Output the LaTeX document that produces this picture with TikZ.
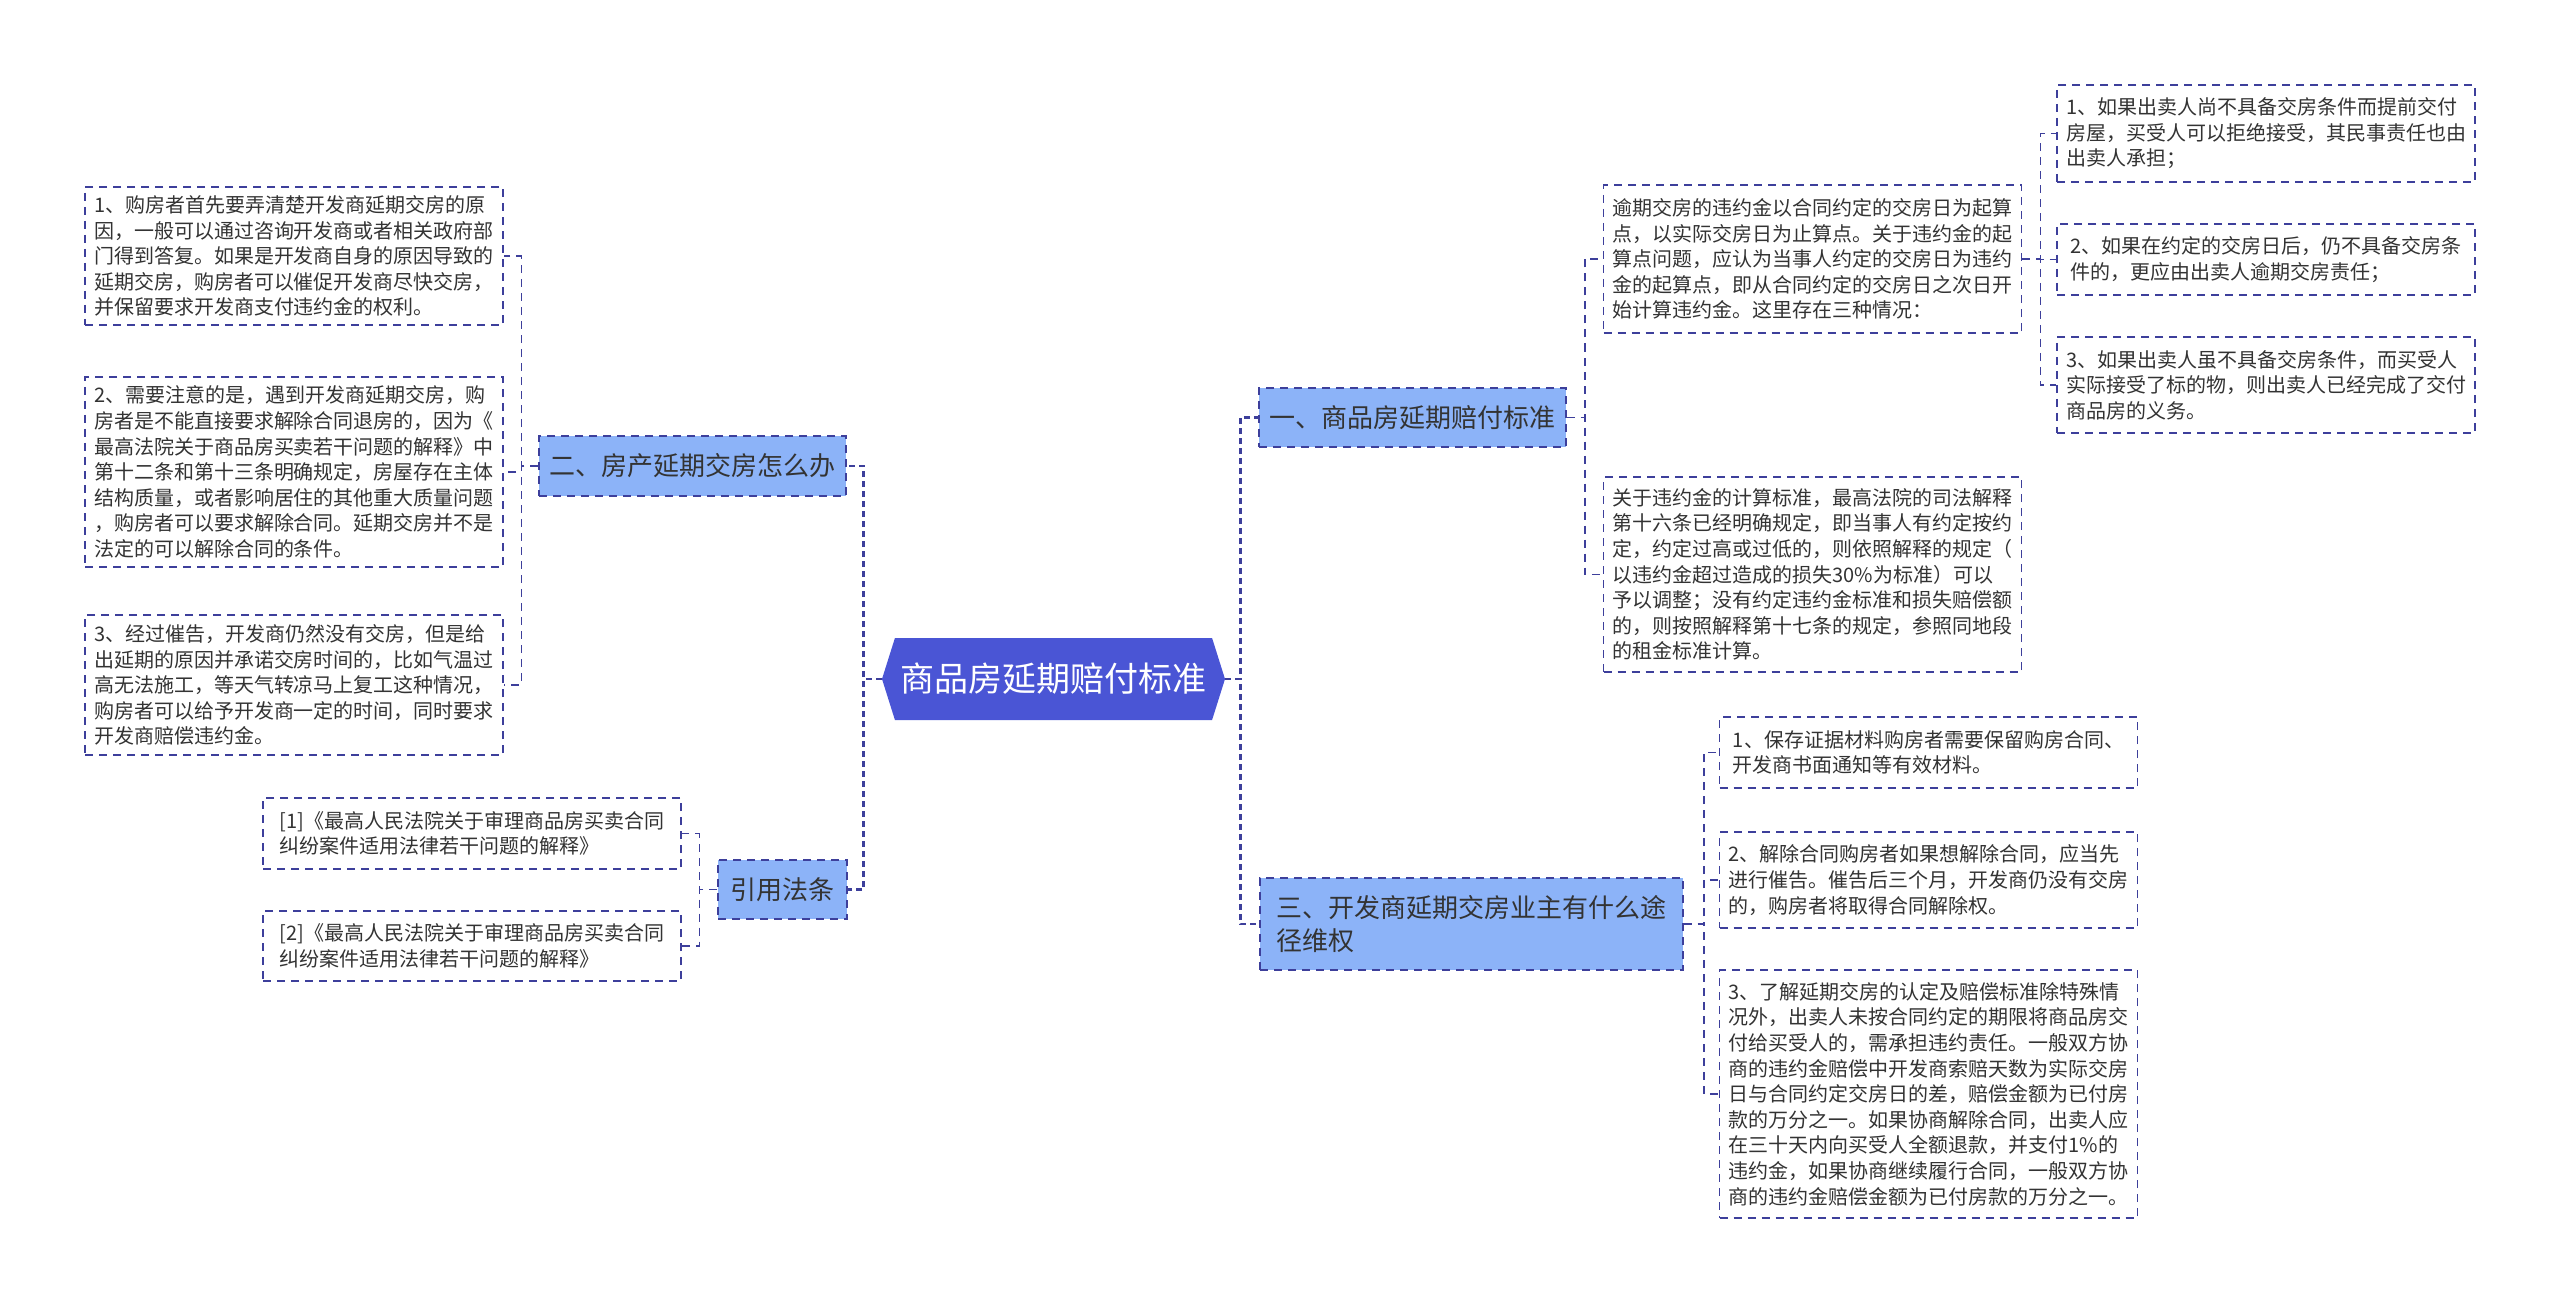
\documentclass[tikz,border=0pt]{standalone}
\usepackage{fontspec}
\setmainfont{Noto Sans CJK SC}
\usetikzlibrary{shapes.symbols}
\definecolor{rootblue}{HTML}{4A55D5}
\definecolor{branchblue}{HTML}{8CB3F8}
\definecolor{linkblue}{HTML}{3D3F9B}
\definecolor{textgray}{HTML}{333333}

\begin{document}
\begin{tikzpicture}[x=0.5pt, y=-0.5pt,
  root node/.style={signal, signal to=west and east, signal pointer angle=145, fill=rootblue, text=white, font=\fontsize{17pt}{20pt}\selectfont, minimum width=171.5pt, minimum height=41pt, inner sep=0pt},
  branch node/.style={draw=linkblue, dash pattern=on 4pt off 3pt, line width=0.8pt, fill=branchblue, text=textgray, align=left, font=\fontsize{13pt}{16.5pt}\selectfont, inner sep=0pt},
  leaf node/.style={draw=linkblue, dash pattern=on 4pt off 3pt, line width=0.7pt, fill=white, text=textgray, align=left, font=\fontsize{10pt}{12.8pt}\selectfont, inner sep=0pt, minimum width=209pt},
  link/.style={draw=linkblue, dash pattern=on 4pt off 3pt, line width=0.7pt},
  main link/.style={link, line width=1.3pt, dash pattern=on 3pt off 2pt}]
\useasboundingbox (0,0) rectangle (2560,1305);

% centre
\node [root node] (root) at (1053.5,679) {商品房延期赔付标准};

% main branches
\node [branch node, minimum width=153.5pt, minimum height=29.5pt] (b1) at (1412.5,417.5) {一、商品房延期赔付标准};
\node [branch node, minimum width=211.5pt, minimum height=46pt] (b3) at (1471.5,924) {三、开发商延期交房业主有什么途\\径维权};
\node [branch node, minimum width=153.5pt, minimum height=30pt] (b2) at (692.5,466) {二、房产延期交房怎么办};
\node [branch node, minimum width=64.5pt, minimum height=29.5pt] (b4) at (782.5,889.5) {引用法条};

% right side, first branch
\node [leaf node, minimum height=74pt] (a1) at (1812.5,259) {逾期交房的违约金以合同约定的交房日为起算\\点，以实际交房日为止算点。关于违约金的起\\算点问题，应认为当事人约定的交房日为违约\\金的起算点，即从合同约定的交房日之次日开\\始计算违约金。这里存在三种情况：};
\node [leaf node, minimum height=97.5pt] (a2) at (1812.5,574.5) {关于违约金的计算标准，最高法院的司法解释\\第十六条已经明确规定，即当事人有约定按约\\定，约定过高或过低的，则依照解释的规定（\\以违约金超过造成的损失30\%为标准）可以\\予以调整；没有约定违约金标准和损失赔偿额\\的，则按照解释第十七条的规定，参照同地段\\的租金标准计算。};
\node [leaf node, minimum height=48.5pt] (s1) at (2266,133.5) {1、如果出卖人尚不具备交房条件而提前交付\\房屋，买受人可以拒绝接受，其民事责任也由\\出卖人承担；};
\node [leaf node, minimum height=35.5pt] (s2) at (2266,259.5) {2、如果在约定的交房日后，仍不具备交房条\\件的，更应由出卖人逾期交房责任；};
\node [leaf node, minimum height=48pt] (s3) at (2266,385) {3、如果出卖人虽不具备交房条件，而买受人\\实际接受了标的物，则出卖人已经完成了交付\\商品房的义务。};

% right side, third branch
\node [leaf node, minimum height=35.5pt] (c1) at (1928.5,752.5) {1、保存证据材料购房者需要保留购房合同、\\开发商书面通知等有效材料。};
\node [leaf node, minimum height=48pt] (c2) at (1928.5,880) {2、解除合同购房者如果想解除合同，应当先\\进行催告。催告后三个月，开发商仍没有交房\\的，购房者将取得合同解除权。};
\node [leaf node, minimum height=124pt] (c3) at (1928.5,1094) {3、了解延期交房的认定及赔偿标准除特殊情\\况外，出卖人未按合同约定的期限将商品房交\\付给买受人的，需承担违约责任。一般双方协\\商的违约金赔偿中开发商索赔天数为实际交房\\日与合同约定交房日的差，赔偿金额为已付房\\款的万分之一。如果协商解除合同，出卖人应\\在三十天内向买受人全额退款，并支付1\%的\\违约金，如果协商继续履行合同，一般双方协\\商的违约金赔偿金额为已付房款的万分之一。};

% left side
\node [leaf node, minimum height=69pt] (l1) at (294,256) {1、购房者首先要弄清楚开发商延期交房的原\\因，一般可以通过咨询开发商或者相关政府部\\门得到答复。如果是开发商自身的原因导致的\\延期交房，购房者可以催促开发商尽快交房，\\并保留要求开发商支付违约金的权利。};
\node [leaf node, minimum height=95pt] (l2) at (294,472) {2、需要注意的是，遇到开发商延期交房，购\\房者是不能直接要求解除合同退房的，因为《\\最高法院关于商品房买卖若干问题的解释》中\\第十二条和第十三条明确规定，房屋存在主体\\结构质量，或者影响居住的其他重大质量问题\\，购房者可以要求解除合同。延期交房并不是\\法定的可以解除合同的条件。};
\node [leaf node, minimum height=70pt] (l3) at (294,685) {3、经过催告，开发商仍然没有交房，但是给\\出延期的原因并承诺交房时间的，比如气温过\\高无法施工，等天气转凉马上复工这种情况，\\购房者可以给予开发商一定的时间，同时要求\\开发商赔偿违约金。};
\node [leaf node, minimum height=35.5pt] (r1) at (472,833.5) {[1]《最高人民法院关于审理商品房买卖合同\\纠纷案件适用法律若干问题的解释》};
\node [leaf node, minimum height=35pt] (r2) at (472,946) {[2]《最高人民法院关于审理商品房买卖合同\\纠纷案件适用法律若干问题的解释》};

% connectors
\foreach \b in {b1,b3} \draw[main link] (root.east) -- ++(15,0) |- (\b.west);
\foreach \b in {b2,b4} \draw[main link] (root.west) -- ++(-18,0) |- (\b.east);
\foreach \c in {a1,a2} \draw[link] (b1.east) -- ++(18,0) |- (\c.west);
\foreach \c in {s1,s2,s3} \draw[link] (a1.east) -- ++(18,0) |- (\c.west);
\foreach \c in {c1,c2,c3} \draw[link] (b3.east) -- ++(20,0) |- (\c.west);
\foreach \c in {l1,l2,l3} \draw[link] (b2.west) -- ++(-17,0) |- (\c.east);
\foreach \c in {r1,r2} \draw[link] (b4.west) -- ++(-18,0) |- (\c.east);
\end{tikzpicture}
\end{document}
